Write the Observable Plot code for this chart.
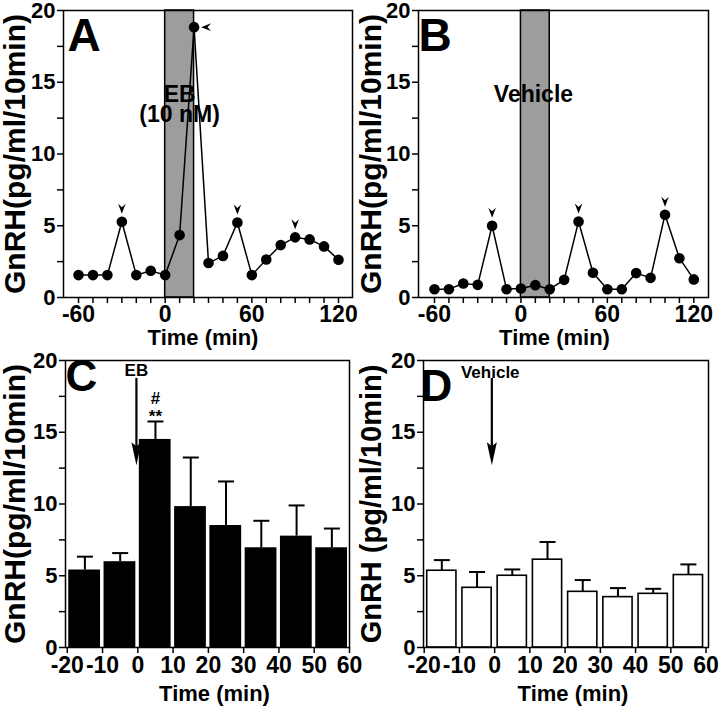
<!DOCTYPE html>
<html><head><meta charset="utf-8">
<script src="https://cdn.jsdelivr.net/npm/d3@7"></script>
<script src="https://cdn.jsdelivr.net/npm/@observablehq/plot@0.6"></script>
<style>
body{margin:0;background:#fff;}
#wrap{position:relative;width:720px;height:711px;overflow:hidden;background:#fff;}
.p{position:absolute;}
</style></head><body><div id="wrap">
<div class="p" id="A" style="left:0;top:0"></div>
<div class="p" id="B" style="left:360px;top:0"></div>
<div class="p" id="C" style="left:0;top:340px"></div>
<div class="p" id="D" style="left:360px;top:340px"></div>
</div>
<script>
// ---- data ----
const timeAB = [-60,-50,-40,-30,-20,-10,0,10,20,30,40,50,60,70,80,90,100,110,120];
const gnrhA = [1.56,1.56,1.56,5.28,1.56,1.86,1.56,4.35,18.84,2.4,2.9,5.23,1.56,2.65,3.65,4.19,4.05,3.56,2.63];
const gnrhB = [0.58,0.58,0.98,0.88,5.0,0.58,0.63,0.86,0.58,1.23,5.3,1.72,0.58,0.58,1.7,1.37,5.77,2.74,1.26];
const pulsesA = [-30,50,90];
const peakA = [20];
const pulsesB = [-20,40,100];
const treatStart = [0];
const treatEnd = [20];
const binStart = [-20,-10,0,10,20,30,40,50];
const meanC = [5.4,5.98,14.5,9.82,8.5,6.95,7.76,6.95];
const topC = [6.33,6.58,15.75,13.24,11.57,8.83,9.9,8.29];
const meanD = [5.35,4.16,5.0,6.12,3.88,3.51,3.74,5.05];
const topD = [6.09,5.26,5.44,7.35,4.70,4.14,4.09,5.79];
const ticksAB = [-60,-50,-40,-30,-20,-10,0,10,20,30,40,50,60,70,80,90,100,110,120];
const labelsAB = [-60,0,60,120];
const ticksCD = [-20,-10,0,10,20,30,40,50,60];
const ticksY = [0,2.5,5,7.5,10,12.5,15,17.5,20];
const labelsY = [0,5,10,15,20];

const FONT = "Liberation Sans, Arial, Helvetica, sans-serif";
const style = {fontFamily: FONT, fontWeight: "bold", fontSize: "22px", color: "black", background: "transparent", overflow: "visible"};

const arrowDown = {draw(ctx){ctx.moveTo(0,5);ctx.lineTo(-3.8,-5);ctx.lineTo(0,-1.5);ctx.lineTo(3.8,-5);ctx.closePath();}};
const arrowLeft = {draw(ctx){ctx.moveTo(-5,0);ctx.lineTo(5,-3.8);ctx.lineTo(1.5,0);ctx.lineTo(5,3.8);ctx.closePath();}};
const bigHead = {draw(ctx){ctx.moveTo(0,0);ctx.lineTo(-5,-23);ctx.lineTo(0,-19);ctx.lineTo(5,-23);ctx.closePath();}};
const capSym = {draw(ctx){ctx.moveTo(-8,0);ctx.lineTo(8,0);}};

function yAxis(){
  return Plot.axisY({ticks: ticksY, tickFormat: d => labelsY.includes(d) ? String(d) : "", tickSize: 6, tickPadding: 2, label: null, strokeWidth: 1.5, fontSize: 22});
}

function linePanel(cfg){
  const data = timeAB.map((t,i) => ({t, v: cfg.vals[i]}));
  const band = treatStart.map((s,i) => ({s, e: treatEnd[i]}));
  const marks = [
    Plot.rect(band, {x1: "s", x2: "e", fill: "#9d9d9d", stroke: "black", strokeWidth: 1.5}),
    Plot.line(data, {x: "t", y: "v", stroke: "black", strokeWidth: 1.5}),
    Plot.dot(data, {x: "t", y: "v", r: 5.3, fill: "black"}),
    Plot.dot(data.filter(d => cfg.pulses.includes(d.t)), {x: "t", y: "v", symbol: arrowDown, fill: "black", dy: -13}),
    Plot.axisX({ticks: ticksAB, tickFormat: d => labelsAB.includes(d) ? String(d) : "", tickSize: 6, tickPadding: 2, label: null, strokeWidth: 1.5, fontSize: 23}),
    yAxis(),
    Plot.frame({stroke: "black", strokeWidth: 1.5}),
    Plot.text([cfg.letter], {frameAnchor: "top-left", lineAnchor: "bottom", textAnchor: "start", dx: cfg.ldx, dy: 40, fontSize: 46, fontWeight: "bold"}),
    Plot.text([cfg.ylabel], {frameAnchor: "left", textAnchor: "middle", rotate: -90, dx: cfg.ydx, fontSize: 30, fontWeight: "bold"}),
    Plot.text(["Time (min)"], {frameAnchor: "bottom", textAnchor: "middle", lineAnchor: "bottom", dx: cfg.tdx, dy: 47, fontSize: 22, fontWeight: "bold"})
  ];
  if (cfg.peak) marks.push(Plot.dot(data.filter(d => cfg.peak.includes(d.t)), {x: "t", y: "v", symbol: arrowLeft, fill: "black", dx: 12}));
  cfg.notes.forEach(n => marks.push(Plot.text([n], {x: "x", y: "y", text: "s", lineAnchor: "bottom", fontSize: 23, fontWeight: "bold"})));
  return Plot.plot({
    width: 360, height: 350, marginTop: 10, marginBottom: 53,
    marginLeft: cfg.ml, marginRight: cfg.mr,
    x: {domain: cfg.xd}, y: {domain: [0, 20]},
    style, marks
  });
}

function barPanel(cfg){
  const data = binStart.map((t,i) => ({t, m: cfg.mean[i], top: cfg.top[i]}));
  const marks = [
    Plot.ruleX(data, {x: d => d.t + 5, y1: "m", y2: "top", stroke: "black", strokeWidth: 2}),
    Plot.dot(data, {x: d => d.t + 5, y: "top", symbol: capSym, stroke: "black", fill: "none", strokeWidth: 2}),
    Plot.rectY(data, {x1: "t", x2: d => d.t + 10, y: "m", fill: cfg.fill, stroke: "black", strokeWidth: cfg.sw, insetLeft: cfg.il, insetRight: cfg.ir}),
    Plot.ruleX([cfg.arrow], {x: "x", y1: "y1", y2: "y2", stroke: "black", strokeWidth: 2.2}),
    Plot.dot([cfg.arrow], {x: "x", y: "tip", symbol: bigHead, fill: "black"}),
    Plot.axisX({ticks: ticksCD, tickFormat: d => String(d), tickSize: 6, tickPadding: 3, label: null, strokeWidth: 1.5, fontSize: 23}),
    yAxis(),
    Plot.frame({stroke: "black", strokeWidth: 1.5}),
    Plot.text([cfg.letter], {frameAnchor: "top-left", lineAnchor: "bottom", textAnchor: "start", dx: cfg.ldx, dy: cfg.ldy, fontSize: 44, fontWeight: "bold"}),
    Plot.text([cfg.ylabel], {frameAnchor: "left", textAnchor: "middle", rotate: -90, dx: cfg.ydx, fontSize: cfg.yfs, fontWeight: "bold"}),
    Plot.text(["Time (min)"], {frameAnchor: "bottom", textAnchor: "middle", lineAnchor: "bottom", dx: cfg.tdx, dy: 53, fontSize: 22, fontWeight: "bold"})
  ];
  cfg.notes.forEach(n => marks.push(Plot.text([n], {x: "x", y: "y", text: "s", lineAnchor: "bottom", fontSize: n.fs, fontWeight: "bold"})));
  return Plot.plot({
    width: 360, height: 371, marginTop: 20, marginBottom: 64,
    marginLeft: cfg.ml, marginRight: cfg.mr,
    x: {domain: cfg.xd}, y: {domain: [0, 20]},
    style, marks
  });
}

document.getElementById("A").append(linePanel({
  vals: gnrhA, pulses: pulsesA, peak: peakA, letter: "A", ldx: 4, ydx: -48, tdx: -5,
  ylabel: "GnRH(pg/ml/10min)", ml: 63, mr: 8, xd: [-70.4, 129.7],
  notes: [{x: 10, y: 13.6, s: "EB"}, {x: 10, y: 12.26, s: "(10 nM)"}]
}));
document.getElementById("B").append(linePanel({
  vals: gnrhB, pulses: pulsesB, peak: null, letter: "B", ldx: 0, ydx: -47, tdx: -9,
  ylabel: "GnRH(pg/ml/10min)", ml: 58, mr: 12, xd: [-71.1, 130.2],
  notes: [{x: 8.7, y: 13.6, s: "Vehicle"}]
}));
document.getElementById("C").append(barPanel({
  mean: meanC, top: topC, fill: "black", sw: 0, il: 1.5, ir: 2,
  letter: "C", ldx: 0, ldy: 30, ydx: -50, yfs: 30, tdx: 7,
  ylabel: "GnRH(pg/ml/10min)", ml: 65, mr: 11, xd: [-20.5, 60],
  arrow: {x: -0.4, y1: 18.75, y2: 14.0, tip: 12.7},
  notes: [{x: -0.4, y: 18.9, s: "EB", fs: 17}, {x: 5, y: 17.0, s: "#", fs: 17}, {x: 5, y: 15.7, s: "**", fs: 17}]
}));
document.getElementById("D").append(barPanel({
  mean: meanD, top: topD, fill: "white", sw: 1.6, il: 3, ir: 3,
  letter: "D", ldx: -3, ldy: 40, ydx: -52, yfs: 29, tdx: 7,
  ylabel: "GnRH (pg/ml/10min)", ml: 63, mr: 12, xd: [-20.2, 60.7],
  arrow: {x: -0.8, y1: 18.75, y2: 14.0, tip: 12.7},
  notes: [{x: -1.25, y: 18.8, s: "Vehicle", fs: 17}]
}));
</script>
</body></html>
